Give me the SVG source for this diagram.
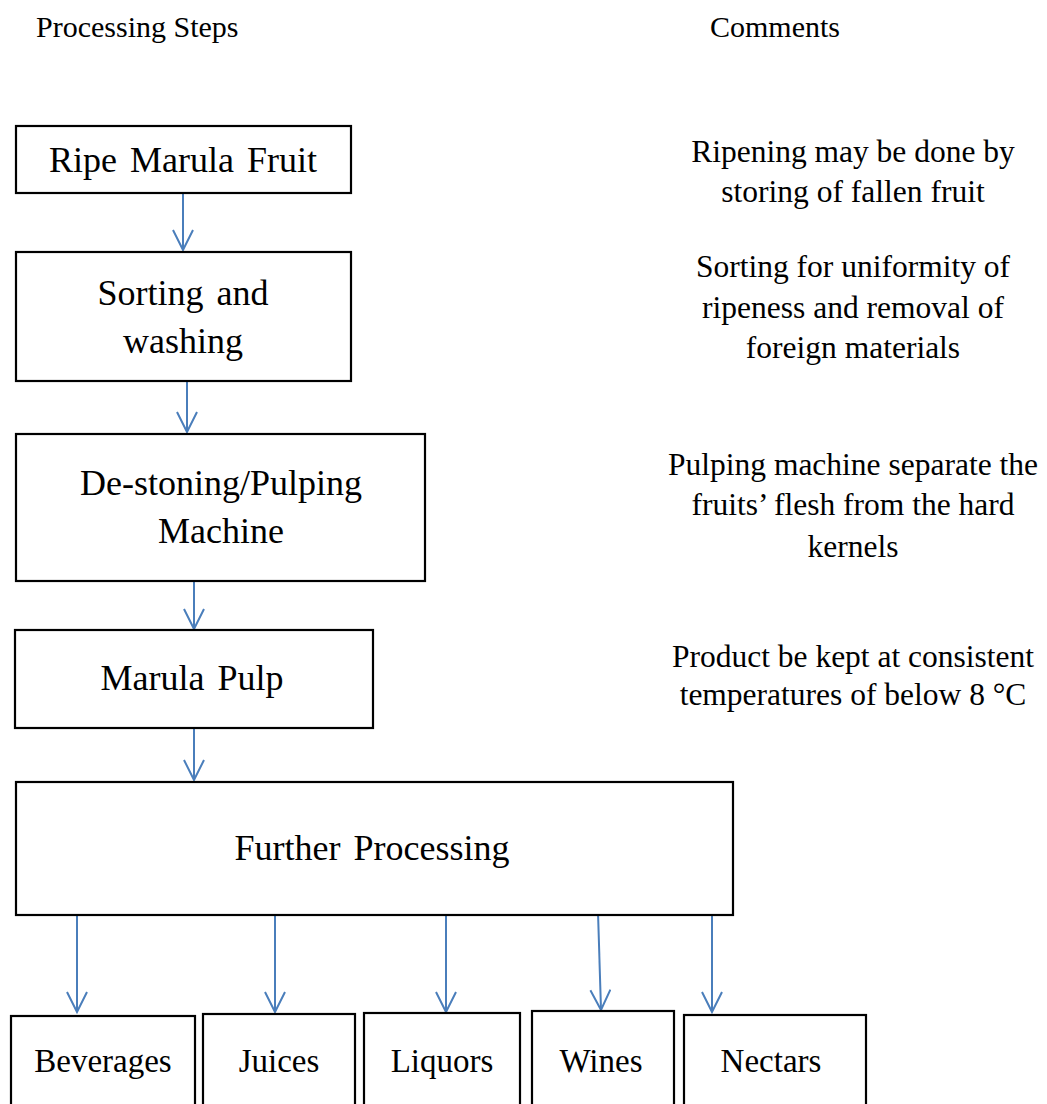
<svg xmlns="http://www.w3.org/2000/svg" width="1047" height="1104" viewBox="0 0 1047 1104">
<style>
text{font-family:"Liberation Serif",Tinos,"Times New Roman",Times,"Noto Serif","DejaVu Serif",serif;fill:#000}
.box{fill:#fff;stroke:#000;stroke-width:2.2}
.t{font-size:36px;text-anchor:middle;word-spacing:4px}
.s{font-size:33px;text-anchor:middle}
.h{font-size:30px}
.c{font-size:31.5px;text-anchor:middle}
.arr{stroke:#4a7ebb;stroke-width:2;fill:none}
</style>
<defs>
<marker id="ah" viewBox="0 0 24 22" refX="22" refY="11" markerWidth="24" markerHeight="22" markerUnits="userSpaceOnUse" orient="auto">
<path d="M2,1 L22,11 L2,21" fill="none" stroke="#4a7ebb" stroke-width="2"/>
</marker>
</defs>
<rect width="1047" height="1104" fill="#fff"/>
<g id="headers">
<text class="h" x="36" y="37" font-family="Liberation Serif, serif">Processing Steps</text>
<text class="h" x="710" y="37" font-family="Liberation Serif, serif">Comments</text>
</g>
<g id="connectors">
<line class="arr" x1="183" y1="194" x2="183" y2="250" marker-end="url(#ah)"/>
<line class="arr" x1="187" y1="382" x2="187" y2="432" marker-end="url(#ah)"/>
<line class="arr" x1="194" y1="582" x2="194" y2="629" marker-end="url(#ah)"/>
<line class="arr" x1="194" y1="729" x2="194" y2="780" marker-end="url(#ah)"/>
<line class="arr" x1="77" y1="916" x2="77" y2="1012" marker-end="url(#ah)"/>
<line class="arr" x1="275" y1="916" x2="275" y2="1012" marker-end="url(#ah)"/>
<line class="arr" x1="446" y1="916" x2="446" y2="1012" marker-end="url(#ah)"/>
<line class="arr" x1="598" y1="912" x2="601" y2="1010" marker-end="url(#ah)"/>
<line class="arr" x1="712" y1="916" x2="712" y2="1012" marker-end="url(#ah)"/>
</g>
<g id="n-ripe">
<rect class="box" x="16" y="126" width="335" height="67"/>
<text class="t" x="183" y="172">Ripe Marula Fruit</text>
</g>
<g id="n-sorting">
<rect class="box" x="16" y="252" width="335" height="129"/>
<text class="t" x="183" y="305">Sorting and</text>
<text class="t" x="183" y="353">washing</text>
</g>
<g id="n-destoning">
<rect class="box" x="16" y="434" width="409" height="147"/>
<text class="t" x="221" y="495">De-stoning/Pulping</text>
<text class="t" x="221" y="543">Machine</text>
</g>
<g id="n-pulp">
<rect class="box" x="15" y="630" width="358" height="98"/>
<text class="t" x="192" y="690">Marula Pulp</text>
</g>
<g id="n-further">
<rect class="box" x="16" y="782" width="717" height="133"/>
<text class="t" x="372" y="860">Further Processing</text>
</g>
<g id="n-beverages">
<rect class="box" x="11" y="1016" width="184" height="100"/>
<text class="s" x="103" y="1072">Beverages</text>
</g>
<g id="n-juices">
<rect class="box" x="203" y="1014" width="152" height="100"/>
<text class="s" x="279" y="1072">Juices</text>
</g>
<g id="n-liquors">
<rect class="box" x="364" y="1013" width="156" height="100"/>
<text class="s" x="442" y="1072">Liquors</text>
</g>
<g id="n-wines">
<rect class="box" x="532" y="1011" width="142" height="100"/>
<text class="s" x="601" y="1072">Wines</text>
</g>
<g id="n-nectars">
<rect class="box" x="684" y="1015" width="182" height="100"/>
<text class="s" x="771" y="1072">Nectars</text>
</g>
<g id="comments">
<text class="c" x="853" y="162">Ripening may be done by</text>
<text class="c" x="853" y="202">storing of fallen fruit</text>
<text class="c" x="853" y="277">Sorting for uniformity of</text>
<text class="c" x="853" y="318">ripeness and  removal of</text>
<text class="c" x="853" y="358">foreign materials</text>
<text class="c" x="853" y="475">Pulping machine separate the</text>
<text class="c" x="853" y="515">fruits’ flesh from the hard</text>
<text class="c" x="853" y="557">kernels</text>
<text class="c" x="853" y="667">Product be kept at consistent</text>
<text class="c" x="853" y="705">temperatures of below 8 °C</text>
</g>
</svg>
